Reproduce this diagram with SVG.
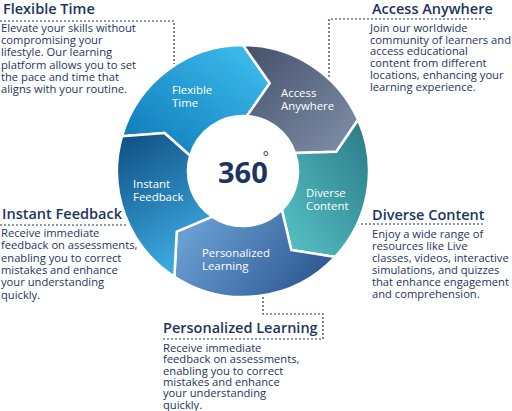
<svg xmlns="http://www.w3.org/2000/svg" width="512" height="411" viewBox="0 0 512 411">
  <style>
    .h { font-family: "Open Sans", "Noto Sans", sans-serif; font-size: 14.5px; font-weight: 600; fill: #1d3461; }
    .b { font-family: "Open Sans", "Noto Sans", sans-serif; font-size: 11.2px; fill: #1d3461; }
    .lbl { font-family: "Open Sans", "Noto Sans", sans-serif; font-size: 11.4px; font-weight: 500; fill: #ffffff; }
    .seg { stroke: #ffffff; stroke-width: 2.5; stroke-linejoin: round; }
    .dash { fill: none; stroke: #1d3461; stroke-width: 1.2; stroke-dasharray: 2 2; }
  </style>
  <defs>
    <linearGradient id="gFT" x1="0" y1="1" x2="1" y2="0">
      <stop offset="0" stop-color="#0a76b5"/>
      <stop offset="1" stop-color="#42c1f1"/>
    </linearGradient>
    <linearGradient id="gAA" x1="0" y1="0" x2="1" y2="1">
      <stop offset="0" stop-color="#44506a"/>
      <stop offset="1" stop-color="#8190aa"/>
    </linearGradient>
    <linearGradient id="gDC" x1="1" y1="0" x2="0" y2="1">
      <stop offset="0" stop-color="#2a7a86"/>
      <stop offset="1" stop-color="#58c5c8"/>
    </linearGradient>
    <linearGradient id="gPL" x1="0" y1="0.3" x2="1" y2="0.7">
      <stop offset="0" stop-color="#6ca2d6"/>
      <stop offset="1" stop-color="#2b5590"/>
    </linearGradient>
    <linearGradient id="gIF" x1="0.3" y1="0" x2="0.7" y2="1">
      <stop offset="0" stop-color="#14568a"/>
      <stop offset="1" stop-color="#3fb3ea"/>
    </linearGradient>
  </defs>
  <rect width="512" height="411" fill="#ffffff"/>

  <g id="connectors">
    <polyline class="dash" points="0,21 174,21 174,64"/>
    <polyline class="dash" points="485,19 329,19 329,77"/>
    <line class="dash" x1="357" y1="224" x2="483" y2="224"/>
    <line class="dash" x1="0" y1="225" x2="129" y2="225"/>
    <polyline class="dash" points="263,297 263,314 323,314 323,339 163,339"/>
  </g>

  <g id="ring">
    <g id="seg-flexible-time">
      <path class="seg" fill="url(#gFT)" d="M 121.9 136.3 A 126 126 0 0 1 243 45 L 269.7 83.3 L 246.8 116.1 A 55 55 0 0 0 190.1 155.8 L 164.5 133 Z"/>
      <text class="lbl" x="172" y="94">Flexible<tspan x="172" dy="13">Time</tspan></text>
    </g>
    <g id="seg-access-anywhere">
      <path class="seg" fill="url(#gAA)" d="M 243 45 A 126 126 0 0 1 358.1 119.8 L 336.3 151.7 L 295 153.1 A 55 55 0 0 0 246.8 116.1 L 269.7 83.3 Z"/>
      <text class="lbl" x="281" y="97">Access<tspan x="281" dy="13">Anywhere</tspan></text>
    </g>
    <g id="seg-diverse-content">
      <path class="seg" fill="url(#gDC)" d="M 358.1 119.8 A 126 126 0 0 1 335.2 256.9 L 291.3 250 L 281.9 209.9 A 55 55 0 0 0 295 153.1 L 336.3 151.7 Z"/>
      <text class="lbl" x="306" y="197">Diverse<tspan x="306" dy="12.5">Content</tspan></text>
    </g>
    <g id="seg-personalized-learning">
      <path class="seg" fill="url(#gPL)" d="M 335.2 256.9 A 126 126 0 0 1 174.4 276.7 L 176.7 231.7 L 212.2 216.6 A 55 55 0 0 0 281.9 209.9 L 291.3 250 Z"/>
      <text class="lbl" x="202" y="257">Personalized<tspan x="202" dy="12.5">Learning</tspan></text>
    </g>
    <g id="seg-instant-feedback">
      <path class="seg" fill="url(#gIF)" d="M 174.4 276.7 A 126 126 0 0 1 121.9 136.3 L 164.5 133 L 190.1 155.8 A 55 55 0 0 0 212.2 216.6 L 176.7 231.7 Z"/>
      <text class="lbl" x="133" y="188">Instant<tspan x="133" dy="13">Feedback</tspan></text>
    </g>
  </g>

  <g id="center">
    <text x="218" y="183" font-family="'Open Sans', 'Noto Sans', sans-serif" font-size="29" font-weight="700" fill="#1d3461">360<tspan dx="-5" dy="-21" font-size="14" font-weight="500">°</tspan></text>
  </g>

  <g id="note-flexible-time">
    <text class="h" x="3" y="14">Flexible Time</text>
    <text class="b" x="1" y="32">Elevate your skills without<tspan x="1" dy="12.2">compromising your</tspan><tspan x="1" dy="12.2">lifestyle. Our learning</tspan><tspan x="1" dy="12.2">platform allows you to set</tspan><tspan x="1" dy="12.2">the pace and time that</tspan><tspan x="1" dy="12.2">aligns with your routine.</tspan></text>
  </g>

  <g id="note-access-anywhere">
    <text class="h" x="372" y="14">Access Anywhere</text>
    <text class="b" x="370" y="32">Join our worldwide<tspan x="370" dy="11.7">community of learners and</tspan><tspan x="370" dy="11.7">access educational</tspan><tspan x="370" dy="11.7">content from different</tspan><tspan x="370" dy="11.7">locations, enhancing your</tspan><tspan x="370" dy="11.7">learning experience.</tspan></text>
  </g>

  <g id="note-diverse-content">
    <text class="h" x="372" y="220">Diverse Content</text>
    <text class="b" x="372" y="238">Enjoy a wide range of<tspan x="372" dy="12">resources like Live</tspan><tspan x="372" dy="12">classes, videos, interactive</tspan><tspan x="372" dy="12">simulations, and quizzes</tspan><tspan x="372" dy="12">that enhance engagement</tspan><tspan x="372" dy="12">and comprehension.</tspan></text>
  </g>

  <g id="note-instant-feedback">
    <text class="h" x="2" y="219">Instant Feedback</text>
    <text class="b" x="1" y="237">Receive immediate<tspan x="1" dy="12.3">feedback on assessments,</tspan><tspan x="1" dy="12.3">enabling you to correct</tspan><tspan x="1" dy="12.3">mistakes and enhance</tspan><tspan x="1" dy="12.3">your understanding</tspan><tspan x="1" dy="12.3">quickly.</tspan></text>
  </g>

  <g id="note-personalized-learning">
    <text class="h" x="163" y="333">Personalized Learning</text>
    <text class="b" x="163" y="352">Receive immediate<tspan x="163" dy="11.3">feedback on assessments,</tspan><tspan x="163" dy="11.3">enabling you to correct</tspan><tspan x="163" dy="11.3">mistakes and enhance</tspan><tspan x="163" dy="11.3">your understanding</tspan><tspan x="163" dy="11.3">quickly.</tspan></text>
  </g>
</svg>
